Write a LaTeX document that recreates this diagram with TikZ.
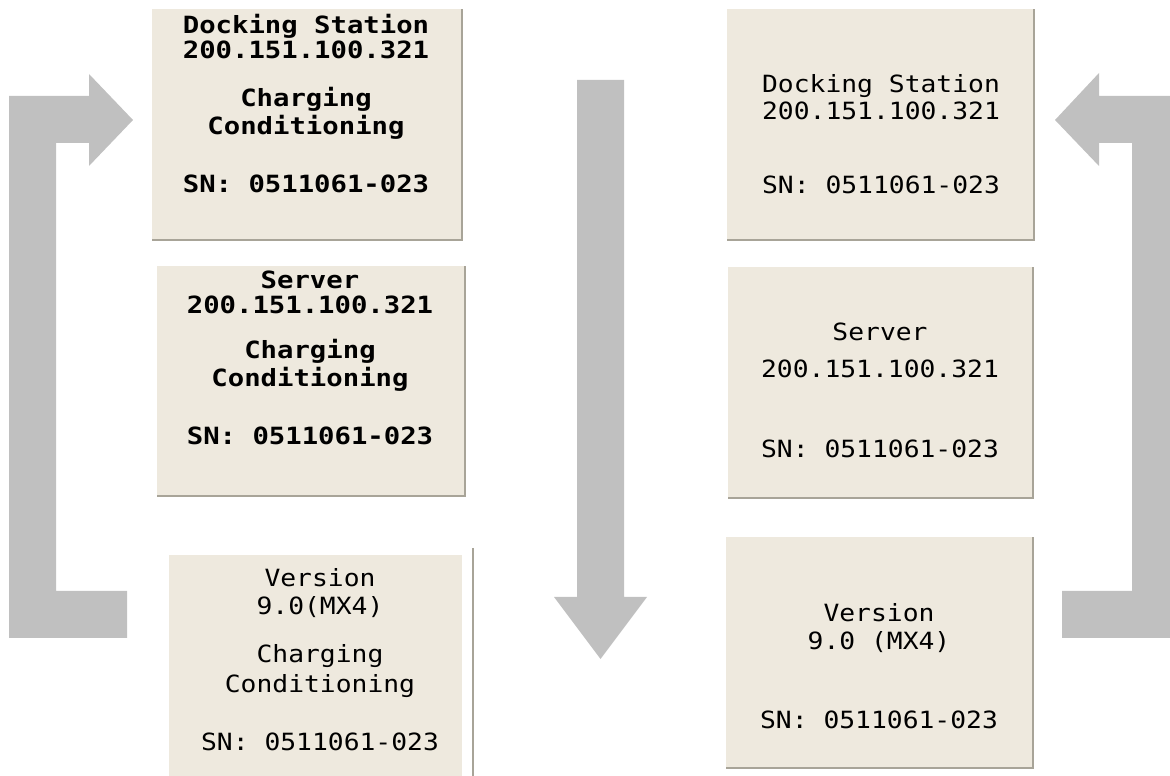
\documentclass[tikz,border=0pt]{standalone}
\usepackage{fontspec}
\newfontfamily\cardfont[FakeStretch=1.11]{DejaVu Sans Mono}
\newfontfamily\cardbold[FakeStretch=1.15]{DejaVu Sans Mono}
\usetikzlibrary{positioning}
\definecolor{cardfill}{RGB}{238,233,222}
\definecolor{cardedge}{RGB}{168,164,152}
\definecolor{flowgrey}{RGB}{192,192,192}

\begin{document}
\begin{tikzpicture}[x=0.02cm, y=-0.02cm,
    card/.style={fill=cardfill, inner sep=0pt, anchor=north west},
    cardshadow/.style={draw=cardedge, line width=1.2pt},
    plain/.style={inner sep=0pt, anchor=base, font=\cardfont\fontsize{13.5}{16}\selectfont},
    hot/.style={plain, font=\cardbold\bfseries\fontsize{13.5}{16}\selectfont}]
  \useasboundingbox (0,0) rectangle (1170,776);

  % grey flow arrows
  \fill[flowgrey] (9,638) -- (127,638) -- (127,591) -- (56,591) -- (56,143) -- (89,143)
    -- (89,166) -- (133,120) -- (89,74) -- (89,96) -- (9,96) -- cycle;
  \fill[flowgrey] (577,80) -- (624,80) -- (624,597) -- (647,597) -- (600.5,659)
    -- (554,597) -- (577,597) -- cycle;
  \fill[flowgrey] (1062,638) -- (1180,638) -- (1180,96) -- (1099,96) -- (1099,73)
    -- (1055,120) -- (1099,166) -- (1099,143) -- (1132,143) -- (1132,591) -- (1062,591) -- cycle;

  % left column
  \node[card, minimum width=6.18cm, minimum height=4.6cm] (dockL) at (152,9) {};
  \draw[cardshadow] (dockL.south west) -- (dockL.south east) -- (dockL.north east);
  \node[hot] (dockLa) at (306,34) {Docking Station};
  \node[hot] (dockLb) at (306,59) {200.151.100.321};
  \node[hot] (dockLc) at (306,107) {Charging};
  \node[hot] (dockLd) at (306,135) {Conditioning};
  \node[hot] (dockLe) at (306,193) {SN: 0511061-023};

  \node[card, minimum width=6.14cm, minimum height=4.58cm] (srvL) at (157,266) {};
  \draw[cardshadow] (srvL.south west) -- (srvL.south east) -- (srvL.north east);
  \node[hot] (srvLa) at (310,289) {Server};
  \node[hot] (srvLb) at (310,314) {200.151.100.321};
  \node[hot] (srvLc) at (310,359) {Charging};
  \node[hot] (srvLd) at (310,387) {Conditioning};
  \node[hot] (srvLe) at (310,445) {SN: 0511061-023};

  \node[card, minimum width=5.86cm, minimum height=4.8cm] (verL) at (169,555) {};
  \draw[cardshadow, line width=0.8pt] (473,548) -- (473,776);
  \node[plain] (verLa) at (320,587) {Version};
  \node[plain] (verLb) at (320,615) {9.0(MX4)};
  \node[plain] (verLc) at (320,663) {Charging};
  \node[plain] (verLd) at (320,692) {Conditioning};
  \node[plain] (verLe) at (320,750) {SN: 0511061-023};

  % right column
  \node[card, minimum width=6.12cm, minimum height=4.6cm] (dockR) at (727,9) {};
  \draw[cardshadow] (dockR.south west) -- (dockR.south east) -- (dockR.north east);
  \node[plain] (dockRa) at (881,93) {Docking Station};
  \node[plain] (dockRb) at (881,120) {200.151.100.321};
  \node[plain] (dockRc) at (881,194) {SN: 0511061-023};

  \node[card, minimum width=6.08cm, minimum height=4.6cm] (srvR) at (728,267) {};
  \draw[cardshadow] (srvR.south west) -- (srvR.south east) -- (srvR.north east);
  \node[plain] (srvRa) at (880,341) {Server};
  \node[plain] (srvRb) at (880,378) {200.151.100.321};
  \node[plain] (srvRc) at (880,458) {SN: 0511061-023};

  \node[card, minimum width=6.12cm, minimum height=4.6cm] (verR) at (726,537) {};
  \draw[cardshadow] (verR.south west) -- (verR.south east) -- (verR.north east);
  \node[plain] (verRa) at (879,622) {Version};
  \node[plain] (verRb) at (879,649) {9.0 (MX4)};
  \node[plain] (verRc) at (879,728) {SN: 0511061-023};
\end{tikzpicture}
\end{document}
